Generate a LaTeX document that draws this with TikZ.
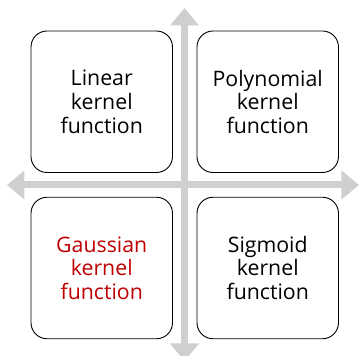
\documentclass[tikz,border=0pt]{standalone}
\usepackage{fontspec}
\setmainfont{Open Sans}
\usepackage{xcolor}
\definecolor{axisgray}{RGB}{208, 206, 206}
\definecolor{kred}{RGB}{192, 0, 0}
\usepackage{tikz}
\usetikzlibrary{
  arrows.meta,
  positioning
}

\begin{document}
\begin{tikzpicture}[
  x=1pt, y=-1pt,
  kbox/.style={draw=black, line width=0.9pt, rounded corners=16pt, fill=white,
               minimum width=141.5pt, minimum height=141.5pt, inner sep=0pt,
               align=center, font=\fontsize{21.3}{23.7}\selectfont},
  axisarrow/.style={draw=axisgray, line width=7pt,
                    {Triangle[length=17.5pt, width=28pt]}-{Triangle[length=17.5pt, width=28pt]}}
]
\useasboundingbox (0,0) rectangle (360,356);
\clip (0,0) rectangle (360,356);

% axes
\coordinate (ytop) at (184.5, 8);
\coordinate (ybot) at (184.5, 361);
\coordinate (xleft) at (7, 185);
\coordinate (xright) at (359, 185);
\draw[axisarrow] (xleft) -- (xright);
\draw[axisarrow] (ytop) -- (ybot);

% kernels
\node[kbox] (linear) at (101.75, 101.75) {Linear\\kernel\\function};
\node[kbox] (poly)   at (267.75, 101.75) {Polynomial\\kernel\\function};
\node[kbox, text=kred] (gauss) at (101.75, 268) {Gaussian\\kernel\\function};
\node[kbox] (sigm)   at (267.75, 268) {Sigmoid\\kernel\\function};

\end{tikzpicture}
\end{document}
